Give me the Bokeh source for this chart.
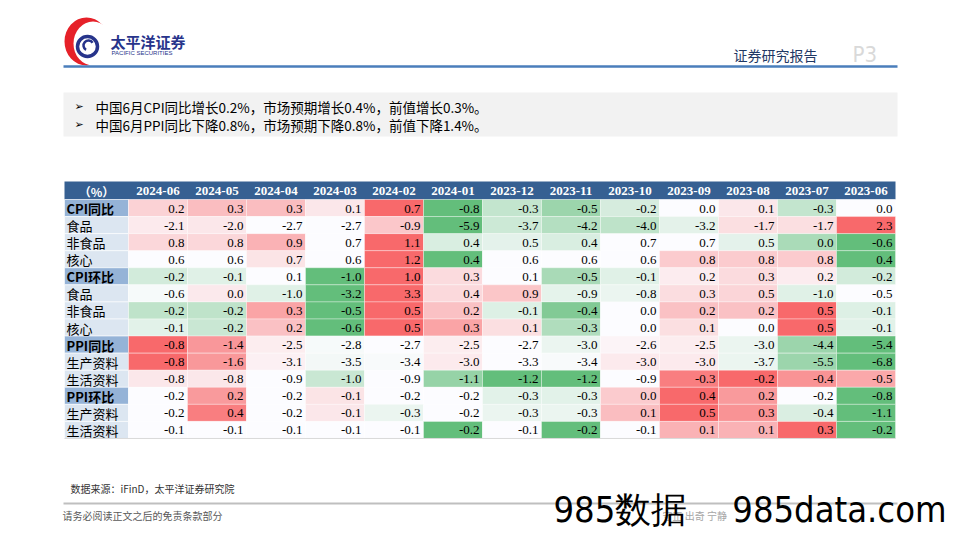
import numpy as np
from bokeh.plotting import figure
from bokeh.models import Range1d, ColumnDataSource
from bokeh.core.properties import value
from bokeh.embed import file_html
from bokeh.resources import INLINE

# ---------------- data ----------------
months = ["2024-06", "2024-05", "2024-04", "2024-03", "2024-02", "2024-01", "2023-12",
          "2023-11", "2023-10", "2023-09", "2023-08", "2023-07", "2023-06"]
row_labels = ["CPI同比", "食品", "非食品", "核心", "CPI环比", "食品", "非食品", "核心",
              "PPI同比", "生产资料", "生活资料", "PPI环比", "生产资料", "生活资料"]
header_label = "（%）"

cpi_yoy = [0.2, 0.3, 0.3, 0.1, 0.7, -0.8, -0.3, -0.5, -0.2, 0.0, 0.1, -0.3, 0.0]
cpi_food_yoy = [-2.1, -2.0, -2.7, -2.7, -0.9, -5.9, -3.7, -4.2, -4.0, -3.2, -1.7, -1.7, 2.3]
cpi_nonfood_yoy = [0.8, 0.8, 0.9, 0.7, 1.1, 0.4, 0.5, 0.4, 0.7, 0.7, 0.5, 0.0, -0.6]
cpi_core_yoy = [0.6, 0.6, 0.7, 0.6, 1.2, 0.4, 0.6, 0.6, 0.6, 0.8, 0.8, 0.8, 0.4]
cpi_mom = [-0.2, -0.1, 0.1, -1.0, 1.0, 0.3, 0.1, -0.5, -0.1, 0.2, 0.3, 0.2, -0.2]
cpi_food_mom = [-0.6, 0.0, -1.0, -3.2, 3.3, 0.4, 0.9, -0.9, -0.8, 0.3, 0.5, -1.0, -0.5]
cpi_nonfood_mom = [-0.2, -0.2, 0.3, -0.5, 0.5, 0.2, -0.1, -0.4, 0.0, 0.2, 0.2, 0.5, -0.1]
cpi_core_mom = [-0.1, -0.2, 0.2, -0.6, 0.5, 0.3, 0.1, -0.3, 0.0, 0.1, 0.0, 0.5, -0.1]
ppi_yoy = [-0.8, -1.4, -2.5, -2.8, -2.7, -2.5, -2.7, -3.0, -2.6, -2.5, -3.0, -4.4, -5.4]
ppi_producer_yoy = [-0.8, -1.6, -3.1, -3.5, -3.4, -3.0, -3.3, -3.4, -3.0, -3.0, -3.7, -5.5, -6.8]
ppi_consumer_yoy = [-0.8, -0.8, -0.9, -1.0, -0.9, -1.1, -1.2, -1.2, -0.9, -0.3, -0.2, -0.4, -0.5]
ppi_mom = [-0.2, 0.2, -0.2, -0.1, -0.2, -0.2, -0.3, -0.3, 0.0, 0.4, 0.2, -0.2, -0.8]
ppi_producer_mom = [-0.2, 0.4, -0.2, -0.1, -0.3, -0.2, -0.3, -0.3, 0.1, 0.5, 0.3, -0.4, -1.1]
ppi_consumer_mom = [-0.1, -0.1, -0.1, -0.1, -0.1, -0.2, -0.1, -0.2, -0.1, 0.1, 0.1, 0.3, -0.2]

table_rows = [cpi_yoy, cpi_food_yoy, cpi_nonfood_yoy, cpi_core_yoy,
              cpi_mom, cpi_food_mom, cpi_nonfood_mom, cpi_core_mom,
              ppi_yoy, ppi_producer_yoy, ppi_consumer_yoy,
              ppi_mom, ppi_producer_mom, ppi_consumer_mom]

bullets = ["中国6月CPI同比增长0.2%，市场预期增长0.4%，前值增长0.3%。",
           "中国6月PPI同比下降0.8%，市场预期下降0.8%，前值下降1.4%。"]
source_note = "数据来源：iFinD，太平洋证券研究院"
disclaimer = "请务必阅读正文之后的免责条款部分"
watermark = ["985数据", "985data.com"]

# ---------------- styling ----------------
GREEN = np.array([99, 190, 123])
WHITE = np.array([252, 252, 255])
RED = np.array([248, 105, 107])


def scale_color(v, lo, mid, hi):
    if v <= mid:
        t = 0.0 if mid == lo else (mid - v) / (mid - lo)
        c = WHITE + (GREEN - WHITE) * t
    else:
        t = 0.0 if hi == mid else (v - mid) / (hi - mid)
        c = WHITE + (RED - WHITE) * t
    c = np.clip(np.round(c), 0, 255).astype(int)
    return "#%02x%02x%02x" % tuple(c)


# ---------------- figure ----------------
p = figure(width=952, height=532, x_range=Range1d(0, 952), y_range=Range1d(532, 0),
           output_backend="svg", toolbar_location=None, min_border=0,
           x_axis_location=None, y_axis_location=None, outline_line_color=None,
           background_fill_color="white", border_fill_color="white")
p.grid.visible = False

CJK = value("Noto Sans CJK SC")
SERIF = value("Liberation Serif")
NARROW = value("DejaVu Sans Condensed")

# ----- page header -----
# logo
p.ellipse(x=[86], y=[41], width=[44], height=[48], fill_color="#E62129", line_color=None)
p.ellipse(x=[92.5], y=[43], width=[39], height=[44], fill_color="white", line_color=None)
p.circle(x=[87], y=[46], radius=10, fill_color="white", line_color="#27348B", line_width=3.5)
p.arc(x=[88], y=[45], radius=5, start_angle=0.6, end_angle=4.2, line_color="#27348B",
      line_width=2.5)
p.text(x=[110], y=[41], text=["太平洋证券"], text_font=CJK, text_font_size="15px",
       text_font_style="bold", text_color="#27348B", text_baseline="middle")
p.text(x=[111], y=[52], text=["PACIFIC  SECURITIES"], text_font=value("Liberation Sans"),
       text_font_size="6px", text_color="#27348B", text_baseline="middle")

p.text(x=[733], y=[54], text=["证券研究报告"], text_font=CJK, text_font_size="14px",
       text_color="#1F3864", text_baseline="middle")
p.text(x=[852], y=[54], text=["P3"], text_font=NARROW,
       text_font_size="22px", text_color="#D9D9D9", text_baseline="middle")
p.segment(x0=[63], y0=[66], x1=[897], y1=[66], line_color="#4A7EBB", line_width=2.5)

# ----- bullet box -----
p.quad(left=[63], right=[897], top=[92], bottom=[136], fill_color="#F2F2F2", line_color=None)
by = [106, 124]
p.text(x=[74] * 2, y=by, text=["➢"] * 2, text_font=value("DejaVu Sans"),
       text_font_size="11px", text_color="#000000", text_baseline="middle")
p.text(x=[95] * 2, y=by, text=bullets, text_font=CJK, text_font_size="13.5px",
       text_color="#000000", text_baseline="middle")

# ----- table -----
TL, LABEL_W, COL_W = 64, 64, 59.0
HDR_TOP, HDR_H, ROW_H = 181, 18, 17.07
n_rows, n_cols = len(row_labels), len(months)
TR = TL + LABEL_W + COL_W * n_cols
BODY_TOP = HDR_TOP + HDR_H

# header band
p.quad(left=[TL], right=[TR], top=[HDR_TOP], bottom=[BODY_TOP], fill_color="#366092",
       line_color=None)
p.text(x=[TL + LABEL_W / 2], y=[HDR_TOP + HDR_H / 2 + 0.5], text=[header_label], text_font=CJK,
       text_font_size="12px", text_font_style="bold", text_color="white",
       text_align="center", text_baseline="middle")
hx = [TL + LABEL_W + (j + 0.5) * COL_W for j in range(n_cols)]
p.text(x=hx, y=[HDR_TOP + HDR_H / 2 + 0.5] * n_cols, text=months, text_font=SERIF,
       text_font_size="13px", text_font_style="bold", text_color="white",
       text_align="center", text_baseline="middle")

# label column
is_section = [lab.endswith("比") for lab in row_labels]
ltop = [BODY_TOP + i * ROW_H for i in range(n_rows)]
p.quad(left=[TL] * n_rows, right=[TL + LABEL_W] * n_rows, top=ltop,
       bottom=[t + ROW_H for t in ltop],
       fill_color=["#95B3D7" if s else "#DCE6F1" for s in is_section],
       line_color="white", line_width=0.6)
p.text(x=[TL + 2] * n_rows, y=[t + ROW_H / 2 + 0.5 for t in ltop], text=row_labels,
       text_font=CJK, text_font_size="13px",
       text_font_style=["bold" if s else "normal" for s in is_section],
       text_color="#000000", text_baseline="middle")

# data cells
cl, cr, ct, cb, cc, tx, ty, tv = [], [], [], [], [], [], [], []
for i, vals in enumerate(table_rows):
    arr = np.array(vals, dtype=float)
    lo, hi, mid = arr.min(), arr.max(), float(np.percentile(arr, 50))
    for j, v in enumerate(vals):
        left = TL + LABEL_W + j * COL_W
        top = BODY_TOP + i * ROW_H
        cl.append(left); cr.append(left + COL_W)
        ct.append(top); cb.append(top + ROW_H)
        cc.append(scale_color(v, lo, mid, hi))
        tx.append(left + COL_W - 3)
        ty.append(top + ROW_H / 2 + 0.5)
        tv.append("%.1f" % v)

src = ColumnDataSource(dict(left=cl, right=cr, top=ct, bottom=cb, color=cc))
p.quad(left="left", right="right", top="top", bottom="bottom", fill_color="color",
       line_color="white", line_width=0.5, line_alpha=0.7, source=src)
p.text(x=tx, y=ty, text=tv, text_font=SERIF, text_font_size="13px", text_color="#000000",
       text_align="right", text_baseline="middle")

TB = BODY_TOP + n_rows * ROW_H
p.segment(x0=[TL], y0=[TB], x1=[TR], y1=[TB], line_color="#D9D9D9", line_width=1)

# ----- footer -----
p.text(x=[70], y=[488], text=[source_note], text_font=CJK, text_font_size="10px",
       text_color="#333333", text_baseline="middle")
p.segment(x0=[63], y0=[503], x1=[897], y1=[503], line_color="#BFBFBF", line_width=2)
p.text(x=[62], y=[515], text=[disclaimer], text_font=CJK, text_font_size="10px",
       text_color="#595959", text_baseline="middle")
p.text(x=[662], y=[515], text=["守正 出奇 宁静"], text_font=CJK, text_font_size="10px",
       text_color="#A6A6A6", text_baseline="middle")
p.text(x=[553, 946], y=[509, 509], text=watermark, text_font=NARROW,
       text_font_size="36px", text_color="#000000", text_baseline="middle",
       text_align=["left", "right"])

open("out.html", "w").write(file_html(p, INLINE))
